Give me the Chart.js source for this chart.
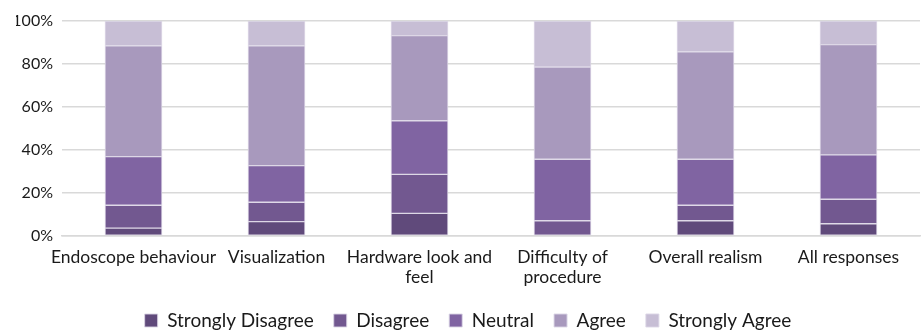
<!DOCTYPE html>
<html>
<head>
<meta charset="utf-8">
<script src="https://cdn.jsdelivr.net/npm/chart.js@4"></script>
<style>
html,body{margin:0;padding:0;background:#fff;}
#wrap{width:921px;height:333px;position:relative;}
</style>
</head>
<body>
<div id="wrap"><canvas id="c" width="921" height="333"></canvas></div>
<script>
const categories = [
  "Endoscope behaviour",
  "Visualization",
  ["Hardware look and", "feel"],
  ["Difficulty of", "procedure"],
  "Overall realism",
  "All responses"
];
const seriesNames = ["Strongly Disagree", "Disagree", "Neutral", "Agree", "Strongly Agree"];
const stronglyDisagree = [3.7, 6.7, 10.5, 0, 7.1, 5.7];
const disagree = [10.6, 9.0, 18.2, 7.1, 7.2, 11.4];
const neutral = [22.6, 17.0, 24.9, 28.6, 21.4, 20.6];
const agree = [51.6, 55.8, 39.6, 42.9, 50.0, 51.3];
const stronglyAgree = [11.5, 11.5, 6.8, 21.4, 14.3, 11.0];
const yTicks = [0, 20, 40, 60, 80, 100];

const colors = ["#604a7b", "#725890", "#8064a2", "#a899bd", "#c7bed5"];
const seriesValues = [stronglyDisagree, disagree, neutral, agree, stronglyAgree];

const FONT = "Lato, 'Open Sans', sans-serif";

new Chart(document.getElementById('c'), {
  type: 'bar',
  data: {
    labels: categories,
    datasets: seriesValues.map((vals, i) => ({
      label: seriesNames[i],
      data: vals,
      backgroundColor: colors[i],
      borderColor: 'rgba(220,214,230,0.9)',
      borderWidth: 1,
      borderSkipped: false,
      barThickness: 57
    }))
  },
  options: {
    responsive: false,
    animation: false,
    layout: { padding: { top: 21, right: 1, left: 16, bottom: -7 } },
    plugins: {
      tooltip: { enabled: false },
      legend: {
        position: 'bottom',
        labels: {
          font: { family: FONT, size: 19 },
          color: '#1a1a1a',
          boxWidth: 13,
          boxHeight: 13,
          padding: 20,
          useBorderRadius: false
        }
      }
    },
    scales: {
      x: {
        stacked: true,
        grid: { display: false, drawTicks: false },
        border: { display: true, color: '#d9d9d9', width: 1.5 },
        ticks: {
          font: { family: FONT, size: 17.5, lineHeight: 1.1 },
          color: '#1a1a1a',
          padding: 12,
          maxRotation: 0,
          autoSkip: false
        },
        afterFit: (s) => { s.height = 55; }
      },
      y: {
        stacked: true,
        min: 0,
        max: 100,
        afterBuildTicks: (s) => { s.ticks = yTicks.map(v => ({ value: v })); },
        grid: { color: '#d9d9d9', lineWidth: 1.5, drawTicks: false },
        border: { display: false },
        ticks: {
          font: { family: FONT, size: 16 },
          color: '#1a1a1a',
          padding: 9,
          callback: (v) => v + '%'
        },
        afterFit: (s) => { s.width = 46; }
      }
    }
  }
});
</script>
</body>
</html>
